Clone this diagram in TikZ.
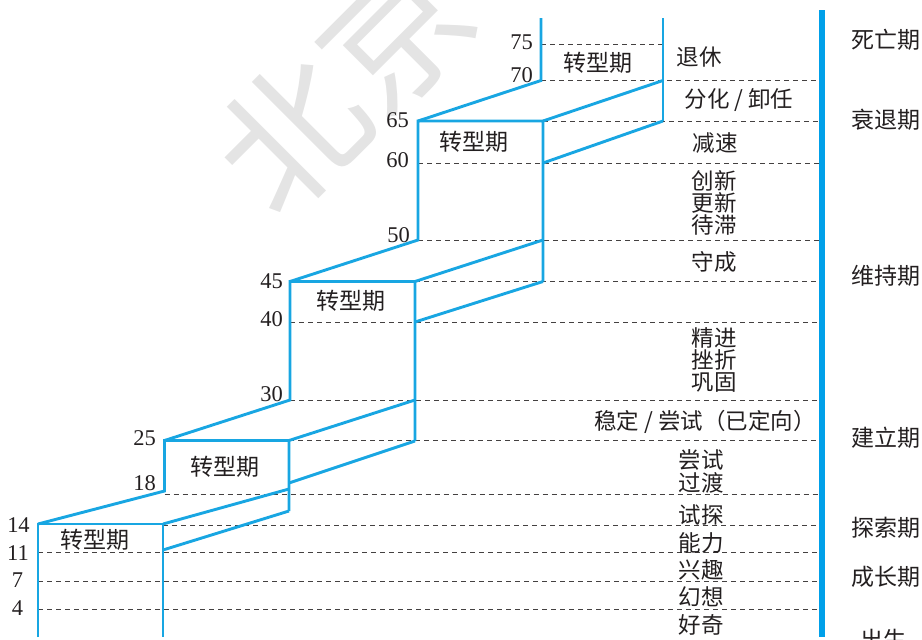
\documentclass[tikz,border=0pt]{standalone}
\usepackage{fontspec}
\setmainfont{Liberation Serif}
\newfontfamily\cjk{Noto Sans CJK SC}
\definecolor{stair}{RGB}{24,166,226}
\definecolor{barc}{RGB}{0,160,233}
\definecolor{ink}{RGB}{35,31,32}
\definecolor{wmark}{RGB}{228,228,228}
\begin{document}
\begin{tikzpicture}[x=1pt,y=-1pt,
  stairline/.style={draw=stair, line width=2.9pt},
  guide/.style={draw=ink!85, line width=0.9pt, dash pattern=on 5pt off 4pt},
  num/.style={font=\fontsize{22.5}{22.5}\selectfont, text=ink, inner sep=0pt},
  lab/.style={font=\cjk\fontsize{22.5}{22.5}\selectfont, text=ink, inner sep=0pt},
  stage/.style={font=\cjk\fontsize{23}{23}\selectfont, text=ink, inner sep=0pt},
  wm/.style={font=\cjk\fontsize{145}{145}\selectfont, text=wmark, inner sep=0pt}]
\useasboundingbox (0,0) rectangle (922,640);
% watermark
\node[wm, rotate=45] (wmk) at (342,83) {北京};
% dashed guide lines
\draw[guide] (541,44) -- (663,44);
\draw[guide] (541,80.5) -- (821,80.5);
\draw[guide] (543,121) -- (821,121);
\draw[guide] (418,163) -- (821,163);
\draw[guide] (418,240) -- (821,240);
\draw[guide] (415,281.5) -- (821,281.5);
\draw[guide] (290,322) -- (821,322);
\draw[guide] (290,400) -- (821,400);
\draw[guide] (289,440.5) -- (821,440.5);
\draw[guide] (164.5,494) -- (821,494);
\draw[guide] (163,525.5) -- (821,525.5);
\draw[guide] (38,552.5) -- (821,552.5);
\draw[guide] (38,581.5) -- (821,581.5);
\draw[guide] (38,609) -- (821,609);
% stair corner points
\coordinate (A1) at (38,524); \coordinate (A2) at (163,524);
\coordinate (B1) at (164.5,440.5); \coordinate (B2) at (289,440.5);
\coordinate (C1) at (290,281.5); \coordinate (C2) at (415,281.5);
\coordinate (D1) at (418,121); \coordinate (D2) at (543,121);
% box A (14)
\draw[stairline] (38,637) -- (A1) -- (A2) -- (163,637);
% A -> B
\draw[stairline] (A1) -- (164.5,491) -- (B1) -- (B2) -- (289,511);
\draw[stairline] (A2) -- (289,489);
\draw[stairline] (163,550) -- (289,511);
% B -> C
\draw[stairline] (B1) -- (290,400) -- (C1) -- (C2) -- (415,441);
\draw[stairline] (B2) -- (415,400);
\draw[stairline] (289,483) -- (415,441);
% C -> D
\draw[stairline] (C1) -- (418,240) -- (D1) -- (D2) -- (543,281.5);
\draw[stairline] (C2) -- (543,240);
\draw[stairline] (415,322) -- (543,281.5);
% D -> E
\draw[stairline] (D1) -- (541,80.5) -- (541,18);
\draw[stairline] (D2) -- (663,80.5);
\draw[stairline] (543,163) -- (663,121);
\draw[stairline] (663,18) -- (663,121);
% right bar
\draw[draw=barc, line width=5.5pt] (822,10) -- (822,637);
% ages
\node[num, anchor=east] (n75) at (533,42) {75};
\node[num, anchor=east] (n70) at (533,75) {70};
\node[num, anchor=east] (n65) at (409,120) {65};
\node[num, anchor=east] (n60) at (409,160) {60};
\node[num, anchor=east] (n50) at (410,235) {50};
\node[num, anchor=east] (n45) at (283,281) {45};
\node[num, anchor=east] (n40) at (283,319) {40};
\node[num, anchor=east] (n30) at (283,394) {30};
\node[num, anchor=east] (n25) at (156,438) {25};
\node[num, anchor=east] (n18) at (156,483) {18};
\node[num] (n14) at (18.5,525) {14};
\node[num] (n11) at (18,553) {11};
\node[num] (n7) at (17.5,580) {7};
\node[num] (n4) at (17.5,608) {4};
% transition labels
\node[stage] (t5) at (598,63) {转型期};
\node[stage] (t4) at (474,142) {转型期};
\node[stage] (t3) at (351,301) {转型期};
\node[stage] (t2) at (225,467) {转型期};
\node[stage] (t1) at (95,540) {转型期};
% middle labels
\node[lab] (m1) at (699,57) {退休};
\node[lab] (m2) at (739,100) {分化 / 卸任};
\node[lab] (m3) at (715,143) {减速};
\node[lab] (m4) at (714,181) {创新};
\node[lab] (m5) at (714,203) {更新};
\node[lab] (m6) at (714,225) {待滞};
\node[lab] (m7) at (714,262) {守成};
\node[lab] (m8) at (714,338) {精进};
\node[lab] (m9) at (714,360) {挫折};
\node[lab] (m10) at (714,382) {巩固};
\node[lab] (m11) at (705,422) {稳定 / 尝试（已定向）};
\node[lab] (m12) at (701,460) {尝试};
\node[lab] (m13) at (701,483) {过渡};
\node[lab] (m14) at (701,515) {试探};
\node[lab] (m15) at (701,543) {能力};
\node[lab] (m16) at (701,570) {兴趣};
\node[lab] (m17) at (701,597) {幻想};
\node[lab] (m18) at (701,625) {好奇};
% stage names
\node[stage] (s1) at (886,40) {死亡期};
\node[stage] (s2) at (886,120) {衰退期};
\node[stage] (s3) at (886,276) {维持期};
\node[stage] (s4) at (886,438) {建立期};
\node[stage] (s5) at (886,528) {探索期};
\node[stage] (s6) at (886,577) {成长期};
\node[stage] (s7) at (883,640) {出生};
\end{tikzpicture}
\end{document}
